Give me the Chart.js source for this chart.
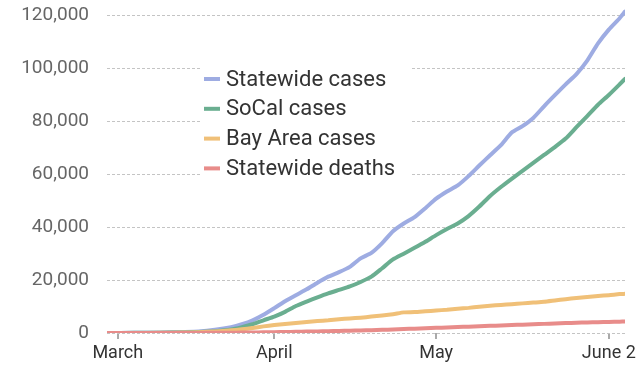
<!DOCTYPE html>
<html lang="en">
<head>
    <meta charset="UTF-8">
    <title>California coronavirus cases</title>
    <script src="https://cdn.jsdelivr.net/npm/chart.js"></script>
    <style>
        html, body { margin: 0; padding: 0; background: #fff; }
        #wrap { width: 640px; height: 391px; }
    </style>
</head>
<body>
    <div id="wrap"><canvas id="casesChart"></canvas></div>

    <script>
        // days since March 1
        const days = [0, 5, 10, 14, 17, 20, 23, 25, 27, 29, 31, 33, 35, 37, 39, 41, 43, 45, 47, 49, 51, 53, 55, 57, 59, 61, 63, 65, 67, 69, 71, 73, 75, 77, 79, 81, 83, 85, 87, 89, 91, 93, 95, 96];

        const statewideCases = [0, 80, 200, 400, 600, 1200, 2200, 3300, 4800, 6900, 9400, 12000, 14300, 16500, 19000, 21300, 23000, 25000, 28200, 30300, 34000, 38500, 41400, 43800, 47200, 50800, 53500, 55800, 59300, 63300, 67200, 71000, 75800, 78200, 81300, 85700, 89900, 94000, 97900, 103000, 109500, 114700, 119000, 121500];
        const socalCases = [0, 50, 100, 200, 400, 700, 1300, 2200, 3300, 4800, 6200, 8000, 10200, 11900, 13500, 15000, 16300, 17600, 19300, 21300, 24500, 27800, 30000, 32200, 34500, 37000, 39300, 41400, 44200, 47800, 51800, 55200, 58300, 61300, 64300, 67300, 70300, 73500, 77800, 82000, 86300, 90000, 94000, 96100];
        const bayAreaCases = [0, 20, 50, 150, 300, 600, 1000, 1400, 1900, 2500, 3000, 3400, 3800, 4200, 4500, 4800, 5200, 5500, 5800, 6200, 6600, 7100, 7800, 7900, 8200, 8500, 8800, 9200, 9500, 9900, 10300, 10600, 10900, 11200, 11500, 11800, 12300, 12800, 13200, 13600, 14000, 14300, 14700, 14800];
        const statewideDeaths = [0, 0, 5, 20, 40, 70, 120, 160, 200, 250, 300, 380, 450, 520, 600, 680, 760, 850, 950, 1050, 1200, 1350, 1500, 1650, 1800, 1950, 2100, 2250, 2400, 2550, 2700, 2850, 3000, 3150, 3300, 3450, 3600, 3750, 3900, 4000, 4100, 4200, 4300, 4350];

        const seriesNames = ["Statewide cases", "SoCal cases", "Bay Area cases", "Statewide deaths"];
        const tickDays = [2, 31, 61, 93];
        const tickLabels = ["March", "April", "May", "June 2"];
        const yTicks = [0, 20000, 40000, 60000, 80000, 100000, 120000];

        const colors = ["#9eace2", "#6aae90", "#f0c078", "#e88c8a"];

        function toPoints(values) {
            return days.map((d, i) => ({ x: d, y: values[i] }));
        }

        const insideLegend = {
            id: "insideLegend",
            afterDraw(chart) {
                const ctx = chart.ctx;
                ctx.save();
                ctx.fillStyle = "#fff";
                ctx.fillRect(200, 61, 210, 124);
                chart.data.datasets.forEach((ds, i) => {
                    const y = 79 + i * 29.8;
                    ctx.strokeStyle = ds.borderColor;
                    ctx.lineWidth = 4;
                    ctx.lineCap = "butt";
                    ctx.beginPath();
                    ctx.moveTo(204, y);
                    ctx.lineTo(220, y);
                    ctx.stroke();
                    ctx.fillStyle = "#333";
                    ctx.font = "22px Roboto";
                    ctx.textBaseline = "middle";
                    ctx.fillText(ds.label, 226, y + 1);
                });
                ctx.restore();
            }
        };

        const datasets = [statewideCases, socalCases, bayAreaCases, statewideDeaths].map((vals, i) => ({
            label: seriesNames[i],
            data: toPoints(vals),
            borderColor: colors[i],
            backgroundColor: colors[i],
            borderWidth: 4,
            pointRadius: 0,
            tension: 0.2,
            borderCapStyle: "round",
            borderJoinStyle: "round",
            order: 3 - i
        }));

        new Chart(document.getElementById("casesChart"), {
            type: "line",
            data: { datasets: datasets },
            options: {
                responsive: true,
                maintainAspectRatio: false,
                animation: false,
                layout: { padding: { top: 5, right: 15, left: 0, bottom: 0 } },
                plugins: {
                    legend: { display: false },
                    tooltip: { enabled: false }
                },
                scales: {
                    x: {
                        type: "linear",
                        min: 0,
                        max: 96,
                        afterBuildTicks: scale => { scale.ticks = tickDays.map(v => ({ value: v })); },
                        afterFit: scale => {
                            scale.height = 58;
                            scale.paddingLeft = 0;
                            scale.paddingRight = 0;
                        },
                        border: { display: false },
                        grid: {
                            drawOnChartArea: false,
                            drawTicks: true,
                            tickLength: 6,
                            color: "#aaa",
                            lineWidth: 2
                        },
                        ticks: {
                            autoSkip: false,
                            maxRotation: 0,
                            padding: 4,
                            color: "#333",
                            font: { family: "Roboto", size: 18 },
                            callback: v => tickLabels[tickDays.indexOf(v)]
                        }
                    },
                    y: {
                        min: 0,
                        max: 124000,
                        afterBuildTicks: scale => { scale.ticks = yTicks.map(v => ({ value: v })); },
                        afterFit: scale => {
                            scale.width = 107;
                            scale.paddingTop = 0;
                            scale.paddingBottom = 0;
                        },
                        border: { display: false, dash: [3, 2] },
                        grid: {
                            drawTicks: false,
                            color: "#c4c4c4",
                            lineWidth: 1
                        },
                        ticks: {
                            padding: 18,
                            color: "#666",
                            font: { family: "Roboto", size: 19 },
                            callback: v => v.toLocaleString("en-US")
                        }
                    }
                }
            },
            plugins: [insideLegend]
        });
    </script>
</body>
</html>
